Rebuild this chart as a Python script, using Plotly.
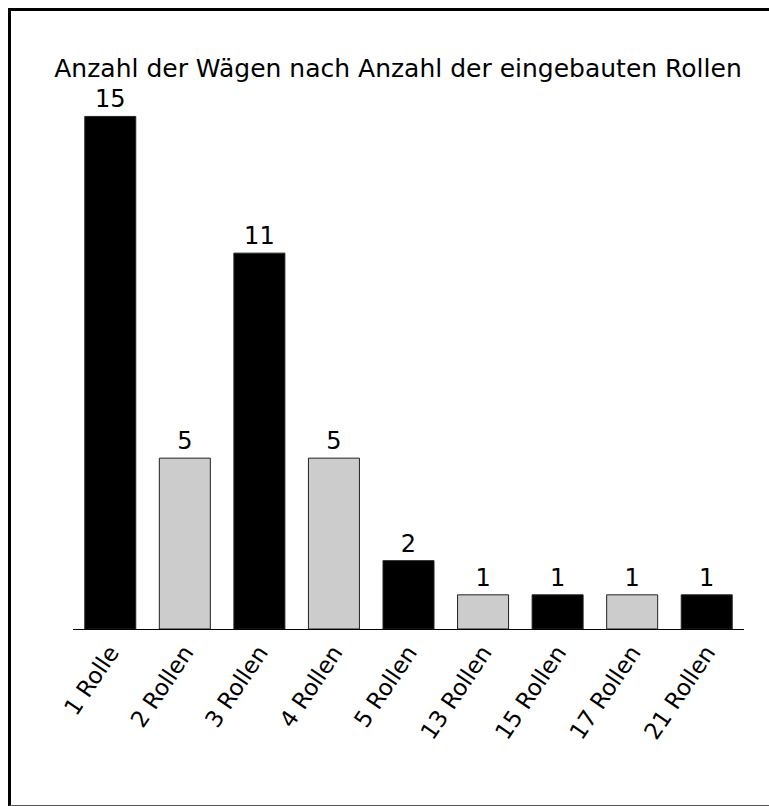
import plotly.graph_objects as go

categories = ["1 Rolle", "2 Rollen", "3 Rollen", "4 Rollen", "5 Rollen",
              "13 Rollen", "15 Rollen", "17 Rollen", "21 Rollen"]
values = [15, 5, 11, 5, 2, 1, 1, 1, 1]
bar_colors = ["#000000", "#cccccc", "#000000", "#cccccc", "#000000",
              "#cccccc", "#000000", "#cccccc", "#000000"]
title_text = "Anzahl der Wägen nach Anzahl der eingebauten Rollen"

W, H = 769, 806
L = 73
T = 100
R = W - 744
B = H - 629
pw = W - L - R
ph = H - T - B

fig = go.Figure(go.Bar(
    x=categories, y=values,
    marker=dict(color=bar_colors, line=dict(color="#222222", width=1)),
    text=[str(v) for v in values], textposition="outside",
    textfont=dict(size=24, color="#000000", family="DejaVu Sans"),
    cliponaxis=False,
))

def px_x(p):
    return (p - L) / pw

def px_y(p):
    return (H - B - p) / ph

frame = [
    dict(type="line", xref="paper", yref="paper",
         x0=px_x(8), x1=px_x(780), y0=px_y(9.5), y1=px_y(9.5),
         line=dict(color="#000000", width=3), layer="above"),
    dict(type="line", xref="paper", yref="paper",
         x0=px_x(9.5), x1=px_x(9.5), y0=px_y(8), y1=px_y(820),
         line=dict(color="#000000", width=3), layer="above"),
    dict(type="line", xref="paper", yref="paper",
         x0=px_x(9.5), x1=px_x(780), y0=px_y(805.5), y1=px_y(805.5),
         line=dict(color="#555555", width=1), layer="above"),
]

fig.update_layout(
    width=W, height=H,
    margin=dict(l=L, r=R, t=T, b=B),
    paper_bgcolor="white", plot_bgcolor="white",
    font=dict(family="DejaVu Sans", size=22, color="#000000"),
    bargap=0.316,
    showlegend=False,
    title=dict(text=title_text, xref="paper", x=px_x(398), xanchor="center",
               yref="container", y=1 - 68 / H, yanchor="middle",
               font=dict(size=25, color="#000000", family="DejaVu Sans")),
    xaxis=dict(showline=True, linecolor="#000000", linewidth=1, ticks="",
               tickangle=-56, tickfont=dict(size=23, color="#000000"),
               showgrid=False),
    yaxis=dict(range=[0, ph / 34.17], visible=False, showgrid=False),
    shapes=frame,
)

fig.write_html(
    "out.html",
    config={"displayModeBar": False},
    post_script="document.body.style.margin='0';document.body.style.overflow='hidden';",
)
